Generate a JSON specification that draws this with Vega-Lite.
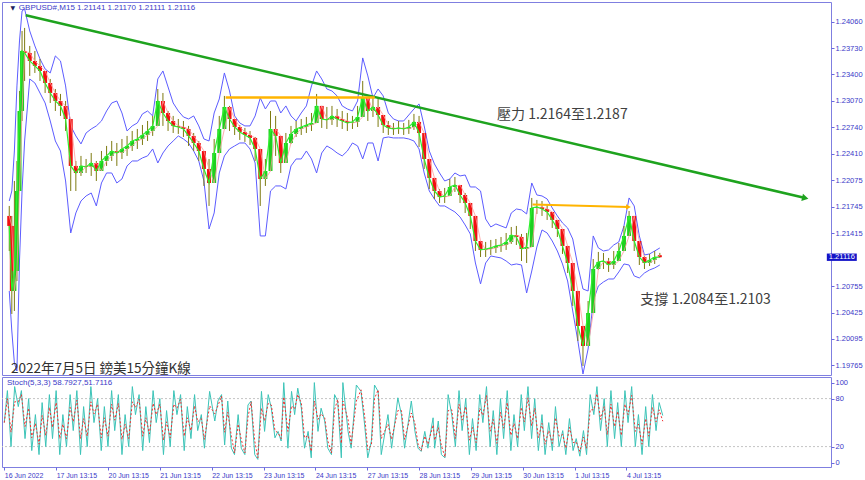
{
"$schema":"https://vega.github.io/schema/vega-lite/v6.json",
"padding":{"left":1,"top":1,"right":0,"bottom":0},
"background":"white",
"bounds":"flush",
"spacing":2,
"config":{"view":{"stroke":"#7f7fe0","strokeWidth":1},"text":{"font":"Noto Sans CJK TC"},"axis":{"labelOverlap":false,"labelBound":false,"labelFlush":false}},
"datasets":{
"px":[
{"t":0,"o":1.21632,"h":1.21757,"l":1.21194,"c":1.21507,"u":1.21819,"d":1.20694},
{"t":0.05,"o":1.21507,"h":1.21632,"l":1.20407,"c":1.20694,"u":1.21944,"d":1.20194},
{"t":0.1,"o":1.20694,"h":1.22069,"l":1.20444,"c":1.20944,"u":1.22444,"d":1.19794},
{"t":0.15,"o":1.20944,"h":1.22319,"l":1.20819,"c":1.21944,"u":1.23257,"d":1.19694},
{"t":0.2,"o":1.21944,"h":1.23194,"l":1.21944,"c":1.22944,"u":1.23819,"d":1.21069},
{"t":0.25,"o":1.22944,"h":1.23944,"l":1.22819,"c":1.23694,"u":1.24194,"d":1.21944},
{"t":0.3,"o":1.23694,"h":1.23982,"l":1.23319,"c":1.23669,"u":1.24219,"d":1.22569},
{"t":0.4,"o":1.23669,"h":1.23757,"l":1.23382,"c":1.23569,"u":1.23944,"d":1.23344},
{"t":0.5,"o":1.23569,"h":1.23694,"l":1.23419,"c":1.23507,"u":1.23757,"d":1.23294},
{"t":0.6,"o":1.23507,"h":1.23594,"l":1.23319,"c":1.23444,"u":1.23594,"d":1.23169},
{"t":0.7,"o":1.23444,"h":1.23444,"l":1.23169,"c":1.23294,"u":1.23469,"d":1.23044},
{"t":0.8,"o":1.23294,"h":1.23344,"l":1.23044,"c":1.23169,"u":1.23419,"d":1.22819},
{"t":0.9,"o":1.23169,"h":1.23219,"l":1.22944,"c":1.23069,"u":1.23632,"d":1.22569},
{"t":1.0,"o":1.23069,"h":1.23157,"l":1.22882,"c":1.23007,"u":1.23569,"d":1.22444},
{"t":1.1,"o":1.23007,"h":1.23069,"l":1.22694,"c":1.22844,"u":1.23257,"d":1.22069},
{"t":1.2,"o":1.22844,"h":1.22694,"l":1.21944,"c":1.22257,"u":1.22757,"d":1.21419},
{"t":1.3,"o":1.22257,"h":1.22319,"l":1.21944,"c":1.22169,"u":1.22632,"d":1.21669},
{"t":1.4,"o":1.22169,"h":1.22382,"l":1.22132,"c":1.22257,"u":1.22532,"d":1.21819},
{"t":1.5,"o":1.22257,"h":1.22344,"l":1.22169,"c":1.22244,"u":1.22669,"d":1.21882},
{"t":1.6,"o":1.22244,"h":1.22419,"l":1.22132,"c":1.22294,"u":1.22719,"d":1.21919},
{"t":1.7,"o":1.22294,"h":1.22319,"l":1.22069,"c":1.22194,"u":1.22757,"d":1.21757},
{"t":1.8,"o":1.22194,"h":1.22444,"l":1.22194,"c":1.22319,"u":1.22819,"d":1.22044},
{"t":1.9,"o":1.22319,"h":1.22507,"l":1.22257,"c":1.22382,"u":1.22944,"d":1.22169},
{"t":2.0,"o":1.22382,"h":1.22569,"l":1.22319,"c":1.22444,"u":1.23044,"d":1.22169},
{"t":2.1,"o":1.22444,"h":1.22544,"l":1.22257,"c":1.22419,"u":1.23069,"d":1.22044},
{"t":2.2,"o":1.22419,"h":1.22594,"l":1.22344,"c":1.22469,"u":1.22919,"d":1.22094},
{"t":2.3,"o":1.22469,"h":1.22632,"l":1.22382,"c":1.22507,"u":1.22694,"d":1.22257},
{"t":2.4,"o":1.22507,"h":1.22694,"l":1.22444,"c":1.22569,"u":1.22757,"d":1.22319},
{"t":2.5,"o":1.22569,"h":1.22719,"l":1.22469,"c":1.22594,"u":1.22794,"d":1.22319},
{"t":2.6,"o":1.22594,"h":1.22769,"l":1.22519,"c":1.22644,"u":1.22907,"d":1.22357},
{"t":2.7,"o":1.22644,"h":1.22819,"l":1.22569,"c":1.22694,"u":1.22944,"d":1.22382},
{"t":2.8,"o":1.22694,"h":1.22882,"l":1.22632,"c":1.22757,"u":1.22882,"d":1.22469},
{"t":2.9,"o":1.22757,"h":1.23219,"l":1.22844,"c":1.23069,"u":1.23344,"d":1.22294},
{"t":3.0,"o":1.23069,"h":1.23169,"l":1.22757,"c":1.22919,"u":1.23444,"d":1.22419},
{"t":3.1,"o":1.22919,"h":1.22944,"l":1.22694,"c":1.22819,"u":1.23244,"d":1.22507},
{"t":3.2,"o":1.22819,"h":1.22882,"l":1.22669,"c":1.22757,"u":1.23044,"d":1.22569},
{"t":3.3,"o":1.22757,"h":1.22844,"l":1.22657,"c":1.22744,"u":1.22944,"d":1.22632},
{"t":3.4,"o":1.22744,"h":1.22819,"l":1.22619,"c":1.22719,"u":1.22869,"d":1.22594},
{"t":3.5,"o":1.22719,"h":1.22757,"l":1.22507,"c":1.22632,"u":1.22844,"d":1.22544},
{"t":3.6,"o":1.22632,"h":1.22669,"l":1.22444,"c":1.22544,"u":1.22882,"d":1.22444},
{"t":3.7,"o":1.22544,"h":1.22569,"l":1.22319,"c":1.22444,"u":1.22757,"d":1.22319},
{"t":3.8,"o":1.22444,"h":1.22444,"l":1.22007,"c":1.22219,"u":1.22594,"d":1.22069},
{"t":3.9,"o":1.22219,"h":1.22344,"l":1.21757,"c":1.22044,"u":1.22569,"d":1.21469},
{"t":4.0,"o":1.22044,"h":1.22594,"l":1.22219,"c":1.22419,"u":1.22919,"d":1.21669},
{"t":4.1,"o":1.22419,"h":1.22882,"l":1.22569,"c":1.22719,"u":1.23094,"d":1.22169},
{"t":4.2,"o":1.22719,"h":1.23132,"l":1.22819,"c":1.22994,"u":1.23419,"d":1.22382},
{"t":4.3,"o":1.22994,"h":1.23007,"l":1.22694,"c":1.22844,"u":1.23194,"d":1.22469},
{"t":4.4,"o":1.22844,"h":1.22844,"l":1.22644,"c":1.22744,"u":1.22882,"d":1.22507},
{"t":4.5,"o":1.22744,"h":1.22769,"l":1.22582,"c":1.22682,"u":1.22794,"d":1.22544},
{"t":4.6,"o":1.22682,"h":1.22732,"l":1.22557,"c":1.22644,"u":1.22757,"d":1.22544},
{"t":4.7,"o":1.22644,"h":1.22694,"l":1.22519,"c":1.22607,"u":1.22757,"d":1.22469},
{"t":4.8,"o":1.22607,"h":1.22619,"l":1.22319,"c":1.22469,"u":1.22882,"d":1.22294},
{"t":4.9,"o":1.22469,"h":1.22344,"l":1.21757,"c":1.22094,"u":1.23107,"d":1.21382},
{"t":5.0,"o":1.22094,"h":1.22344,"l":1.22007,"c":1.22194,"u":1.22969,"d":1.21382},
{"t":5.1,"o":1.22194,"h":1.22944,"l":1.22507,"c":1.22719,"u":1.23069,"d":1.21944},
{"t":5.2,"o":1.22719,"h":1.22882,"l":1.22382,"c":1.22632,"u":1.23069,"d":1.22007},
{"t":5.3,"o":1.22632,"h":1.22444,"l":1.22169,"c":1.22294,"u":1.22919,"d":1.22007},
{"t":5.4,"o":1.22294,"h":1.22669,"l":1.22382,"c":1.22544,"u":1.23007,"d":1.21969},
{"t":5.5,"o":1.22544,"h":1.22757,"l":1.22532,"c":1.22657,"u":1.22882,"d":1.22257},
{"t":5.6,"o":1.22657,"h":1.22819,"l":1.22619,"c":1.22719,"u":1.22819,"d":1.22344},
{"t":5.7,"o":1.22719,"h":1.22844,"l":1.22644,"c":1.22744,"u":1.22919,"d":1.22344},
{"t":5.8,"o":1.22744,"h":1.22869,"l":1.22669,"c":1.22769,"u":1.23007,"d":1.22444},
{"t":5.9,"o":1.22769,"h":1.22919,"l":1.22694,"c":1.22794,"u":1.23257,"d":1.22344},
{"t":6.0,"o":1.22794,"h":1.23157,"l":1.22819,"c":1.23007,"u":1.23444,"d":1.22169},
{"t":6.1,"o":1.23007,"h":1.23007,"l":1.22732,"c":1.22844,"u":1.23344,"d":1.22419},
{"t":6.2,"o":1.22844,"h":1.22994,"l":1.22719,"c":1.22832,"u":1.23219,"d":1.22507},
{"t":6.3,"o":1.22832,"h":1.23007,"l":1.22769,"c":1.22882,"u":1.23194,"d":1.22469},
{"t":6.4,"o":1.22882,"h":1.22969,"l":1.22744,"c":1.22844,"u":1.23132,"d":1.22419},
{"t":6.5,"o":1.22844,"h":1.22944,"l":1.22719,"c":1.22819,"u":1.23007,"d":1.22382},
{"t":6.6,"o":1.22819,"h":1.22919,"l":1.22694,"c":1.22794,"u":1.22969,"d":1.22444},
{"t":6.7,"o":1.22794,"h":1.22882,"l":1.22719,"c":1.22807,"u":1.22944,"d":1.22544},
{"t":6.8,"o":1.22807,"h":1.23007,"l":1.22744,"c":1.22869,"u":1.23069,"d":1.22507},
{"t":6.9,"o":1.22869,"h":1.23319,"l":1.22944,"c":1.23119,"u":1.23607,"d":1.22344},
{"t":7.0,"o":1.23119,"h":1.23094,"l":1.22819,"c":1.22944,"u":1.23382,"d":1.22544},
{"t":7.1,"o":1.22944,"h":1.23132,"l":1.22869,"c":1.22994,"u":1.23107,"d":1.22544},
{"t":7.2,"o":1.22994,"h":1.23094,"l":1.22744,"c":1.22894,"u":1.23219,"d":1.22319},
{"t":7.3,"o":1.22894,"h":1.22882,"l":1.22669,"c":1.22769,"u":1.23132,"d":1.22607},
{"t":7.4,"o":1.22769,"h":1.22819,"l":1.22644,"c":1.22732,"u":1.22919,"d":1.22619},
{"t":7.5,"o":1.22732,"h":1.22794,"l":1.22644,"c":1.22719,"u":1.22844,"d":1.22607},
{"t":7.6,"o":1.22719,"h":1.22819,"l":1.22657,"c":1.22732,"u":1.22819,"d":1.22607},
{"t":7.7,"o":1.22732,"h":1.22794,"l":1.22644,"c":1.22719,"u":1.22819,"d":1.22607},
{"t":7.8,"o":1.22719,"h":1.22832,"l":1.22657,"c":1.22744,"u":1.22894,"d":1.22594},
{"t":7.9,"o":1.22744,"h":1.22907,"l":1.22707,"c":1.22807,"u":1.22969,"d":1.22569},
{"t":8.0,"o":1.22807,"h":1.22882,"l":1.22494,"c":1.22669,"u":1.23032,"d":1.22469},
{"t":8.1,"o":1.22669,"h":1.22507,"l":1.22219,"c":1.22344,"u":1.22757,"d":1.22169},
{"t":8.2,"o":1.22344,"h":1.22232,"l":1.21969,"c":1.22107,"u":1.22444,"d":1.21944},
{"t":8.3,"o":1.22107,"h":1.22069,"l":1.21844,"c":1.21944,"u":1.22282,"d":1.21844},
{"t":8.4,"o":1.21944,"h":1.21969,"l":1.21794,"c":1.21869,"u":1.22169,"d":1.21757},
{"t":8.5,"o":1.21869,"h":1.21982,"l":1.21794,"c":1.21882,"u":1.22069,"d":1.21757},
{"t":8.6,"o":1.21882,"h":1.22094,"l":1.21907,"c":1.21994,"u":1.22094,"d":1.21719},
{"t":8.7,"o":1.21994,"h":1.22119,"l":1.21932,"c":1.22019,"u":1.22169,"d":1.21682},
{"t":8.8,"o":1.22019,"h":1.22007,"l":1.21794,"c":1.21894,"u":1.22132,"d":1.21619},
{"t":8.9,"o":1.21894,"h":1.21919,"l":1.21669,"c":1.21794,"u":1.22144,"d":1.21519},
{"t":9.0,"o":1.21794,"h":1.21794,"l":1.21469,"c":1.21632,"u":1.21994,"d":1.21407},
{"t":9.1,"o":1.21632,"h":1.21507,"l":1.21194,"c":1.21319,"u":1.21994,"d":1.21044},
{"t":9.2,"o":1.21319,"h":1.21319,"l":1.21119,"c":1.21207,"u":1.21944,"d":1.20782},
{"t":9.3,"o":1.21207,"h":1.21307,"l":1.21119,"c":1.21219,"u":1.21594,"d":1.21044},
{"t":9.4,"o":1.21219,"h":1.21332,"l":1.21144,"c":1.21232,"u":1.21494,"d":1.21132},
{"t":9.5,"o":1.21232,"h":1.21344,"l":1.21169,"c":1.21257,"u":1.21532,"d":1.21119},
{"t":9.6,"o":1.21257,"h":1.21369,"l":1.21182,"c":1.21269,"u":1.21507,"d":1.21107},
{"t":9.7,"o":1.21269,"h":1.21419,"l":1.21207,"c":1.21307,"u":1.21482,"d":1.21069},
{"t":9.8,"o":1.21307,"h":1.21494,"l":1.21282,"c":1.21394,"u":1.21669,"d":1.21019},
{"t":9.9,"o":1.21394,"h":1.21507,"l":1.21269,"c":1.21369,"u":1.21719,"d":1.21032},
{"t":10.0,"o":1.21369,"h":1.21407,"l":1.21069,"c":1.21219,"u":1.21707,"d":1.21019},
{"t":10.1,"o":1.21219,"h":1.21419,"l":1.21044,"c":1.21244,"u":1.21657,"d":1.20669},
{"t":10.2,"o":1.21244,"h":1.21857,"l":1.21544,"c":1.21732,"u":1.22044,"d":1.20944},
{"t":10.3,"o":1.21732,"h":1.21832,"l":1.21657,"c":1.21744,"u":1.21894,"d":1.21244},
{"t":10.4,"o":1.21744,"h":1.21819,"l":1.21632,"c":1.21719,"u":1.21882,"d":1.21457},
{"t":10.5,"o":1.21719,"h":1.21782,"l":1.21582,"c":1.21682,"u":1.21844,"d":1.21419},
{"t":10.6,"o":1.21682,"h":1.21682,"l":1.21482,"c":1.21582,"u":1.21732,"d":1.21319},
{"t":10.7,"o":1.21582,"h":1.21569,"l":1.21369,"c":1.21469,"u":1.21632,"d":1.21194},
{"t":10.8,"o":1.21469,"h":1.21382,"l":1.21157,"c":1.21257,"u":1.21544,"d":1.21032},
{"t":10.9,"o":1.21257,"h":1.21194,"l":1.20919,"c":1.21044,"u":1.21482,"d":1.20819},
{"t":11.0,"o":1.21044,"h":1.20882,"l":1.20507,"c":1.20694,"u":1.21344,"d":1.20444},
{"t":11.1,"o":1.20694,"h":1.20444,"l":1.20069,"c":1.20257,"u":1.21007,"d":1.20069},
{"t":11.2,"o":1.20257,"h":1.20257,"l":1.19757,"c":1.20007,"u":1.20719,"d":1.19657},
{"t":11.3,"o":1.20007,"h":1.20569,"l":1.20219,"c":1.20419,"u":1.20694,"d":1.19969},
{"t":11.4,"o":1.20419,"h":1.21094,"l":1.20819,"c":1.20969,"u":1.21382,"d":1.20569},
{"t":11.5,"o":1.20969,"h":1.21182,"l":1.20957,"c":1.21057,"u":1.21232,"d":1.20757},
{"t":11.6,"o":1.21057,"h":1.21169,"l":1.20969,"c":1.21069,"u":1.21194,"d":1.20807},
{"t":11.7,"o":1.21069,"h":1.21107,"l":1.20932,"c":1.21019,"u":1.21207,"d":1.20844},
{"t":11.8,"o":1.21019,"h":1.21194,"l":1.20969,"c":1.21069,"u":1.21269,"d":1.20844},
{"t":11.9,"o":1.21069,"h":1.21294,"l":1.21107,"c":1.21194,"u":1.21307,"d":1.20932},
{"t":12.0,"o":1.21194,"h":1.21507,"l":1.21257,"c":1.21382,"u":1.21507,"d":1.21032},
{"t":12.1,"o":1.21382,"h":1.21694,"l":1.21469,"c":1.21632,"u":1.21857,"d":1.21019},
{"t":12.2,"o":1.21632,"h":1.21469,"l":1.21194,"c":1.21319,"u":1.21757,"d":1.20882},
{"t":12.3,"o":1.21319,"h":1.21219,"l":1.21019,"c":1.21119,"u":1.21382,"d":1.20857},
{"t":12.4,"o":1.21119,"h":1.21132,"l":1.20969,"c":1.21044,"u":1.21144,"d":1.20919},
{"t":12.5,"o":1.21044,"h":1.21157,"l":1.21007,"c":1.21082,"u":1.21157,"d":1.20957},
{"t":12.6,"o":1.21082,"h":1.21194,"l":1.21032,"c":1.21119,"u":1.21194,"d":1.20982},
{"t":12.7,"o":1.21141,"h":1.21170,"l":1.21111,"c":1.21116,"u":1.21232,"d":1.21019}
],
"st":[
{"t":0,"k":50,"d":50},{"t":0.06,"k":90,"d":80},{"t":0.13,"k":20,"d":38},{"t":0.2,"k":95,"d":76},{"t":0.27,"k":70,"d":76},{"t":0.33,"k":90,"d":85},{"t":0.4,"k":30,"d":45},{"t":0.47,"k":80,"d":68},{"t":0.53,"k":15,"d":31},{"t":0.6,"k":60,"d":49},{"t":0.67,"k":10,"d":23},{"t":0.73,"k":75,"d":59},{"t":0.8,"k":20,"d":34},{"t":0.87,"k":85,"d":69},{"t":0.93,"k":30,"d":44},{"t":1.0,"k":90,"d":75},{"t":1.07,"k":10,"d":30},{"t":1.13,"k":60,"d":48},{"t":1.2,"k":20,"d":30},{"t":1.27,"k":85,"d":69},{"t":1.33,"k":40,"d":51},{"t":1.4,"k":90,"d":78},{"t":1.47,"k":10,"d":30},{"t":1.53,"k":70,"d":55},{"t":1.6,"k":20,"d":33},{"t":1.67,"k":95,"d":76},{"t":1.73,"k":50,"d":61},{"t":1.8,"k":80,"d":73},{"t":1.87,"k":15,"d":31},{"t":1.93,"k":70,"d":56},{"t":2.0,"k":20,"d":33},{"t":2.07,"k":90,"d":73},{"t":2.13,"k":40,"d":53},{"t":2.2,"k":85,"d":74},{"t":2.27,"k":10,"d":29},{"t":2.33,"k":60,"d":48},{"t":2.4,"k":20,"d":30},{"t":2.47,"k":95,"d":76},{"t":2.53,"k":60,"d":69},{"t":2.6,"k":85,"d":79},{"t":2.67,"k":15,"d":33},{"t":2.73,"k":70,"d":56},{"t":2.8,"k":25,"d":36},{"t":2.87,"k":90,"d":74},{"t":2.93,"k":50,"d":60},{"t":3.0,"k":80,"d":73},{"t":3.07,"k":10,"d":28},{"t":3.13,"k":65,"d":51},{"t":3.2,"k":20,"d":31},{"t":3.27,"k":90,"d":73},{"t":3.33,"k":60,"d":68},{"t":3.4,"k":85,"d":79},{"t":3.47,"k":15,"d":33},{"t":3.53,"k":70,"d":56},{"t":3.6,"k":30,"d":40},{"t":3.67,"k":85,"d":71},{"t":3.73,"k":40,"d":51},
{"t":3.80,"k":60,"d":55},{"t":3.86,"k":18,"d":29},{"t":3.96,"k":89,"d":71},{"t":4.06,"k":52,"d":61},{"t":4.12,"k":77,"d":71},{"t":4.19,"k":85,"d":83},{"t":4.25,"k":22,"d":38},{"t":4.31,"k":77,"d":63},{"t":4.38,"k":18,"d":33},{"t":4.44,"k":10,"d":12},{"t":4.51,"k":60,"d":48},{"t":4.57,"k":18,"d":29},{"t":4.64,"k":10,"d":12},{"t":4.70,"k":72,"d":57},{"t":4.76,"k":77,"d":76},{"t":4.83,"k":10,"d":27},{"t":4.89,"k":4,"d":6},{"t":4.96,"k":89,"d":68},{"t":5.02,"k":39,"d":52},{"t":5.09,"k":85,"d":74},{"t":5.15,"k":68,"d":72},{"t":5.22,"k":31,"d":40},{"t":5.28,"k":39,"d":37},{"t":5.34,"k":27,"d":30},{"t":5.39,"k":100,"d":82},{"t":5.47,"k":18,"d":39},{"t":5.54,"k":89,"d":71},{"t":5.60,"k":60,"d":67},{"t":5.66,"k":93,"d":85},{"t":5.73,"k":68,"d":74},{"t":5.79,"k":18,"d":31},{"t":5.86,"k":39,"d":34},{"t":5.92,"k":6,"d":14},{"t":5.98,"k":100,"d":77},{"t":6.05,"k":39,"d":54},{"t":6.11,"k":68,"d":61},{"t":6.18,"k":52,"d":56},{"t":6.24,"k":18,"d":27},{"t":6.31,"k":10,"d":12},{"t":6.37,"k":85,"d":66},{"t":6.43,"k":77,"d":79},{"t":6.50,"k":6,"d":24},{"t":6.53,"k":100,"d":77},{"t":6.63,"k":39,"d":54},{"t":6.69,"k":18,"d":23},{"t":6.79,"k":97,"d":77},{"t":6.88,"k":89,"d":91},{"t":6.95,"k":47,"d":58},{"t":7.01,"k":6,"d":16},{"t":7.08,"k":27,"d":22},{"t":7.14,"k":97,"d":80},{"t":7.21,"k":89,"d":91},{"t":7.27,"k":10,"d":30},{"t":7.40,"k":60,"d":48},{"t":7.47,"k":18,"d":29},{"t":7.59,"k":81,"d":65},{"t":7.66,"k":60,"d":65},{"t":7.72,"k":18,"d":29},{"t":7.85,"k":77,"d":62},{"t":7.92,"k":39,"d":49},{"t":7.98,"k":18,"d":23},{"t":8.04,"k":14,"d":15},{"t":8.11,"k":39,"d":33},{"t":8.17,"k":18,"d":23},{"t":8.27,"k":56,"d":47},{"t":8.30,"k":18,"d":28},{"t":8.37,"k":52,"d":44},{"t":8.43,"k":10,"d":21},{"t":8.50,"k":6,"d":7},{"t":8.56,"k":85,"d":65},
{"t":8.63,"k":60,"d":66},{"t":8.7,"k":20,"d":30},{"t":8.77,"k":90,"d":73},{"t":8.83,"k":40,"d":53},{"t":8.9,"k":80,"d":70},{"t":8.97,"k":10,"d":28},{"t":9.03,"k":55,"d":44},{"t":9.1,"k":15,"d":25},{"t":9.17,"k":85,"d":68},{"t":9.23,"k":50,"d":59},{"t":9.3,"k":95,"d":84},{"t":9.37,"k":20,"d":39},{"t":9.43,"k":65,"d":54},{"t":9.5,"k":10,"d":24},{"t":9.57,"k":80,"d":63},{"t":9.63,"k":30,"d":43},{"t":9.7,"k":90,"d":75},{"t":9.77,"k":15,"d":34},{"t":9.83,"k":60,"d":49},{"t":9.9,"k":20,"d":30},{"t":9.97,"k":85,"d":69},{"t":10.03,"k":40,"d":51},{"t":10.1,"k":95,"d":81},{"t":10.17,"k":30,"d":46},{"t":10.23,"k":80,"d":68},{"t":10.3,"k":15,"d":31},{"t":10.37,"k":60,"d":49},{"t":10.43,"k":10,"d":23},{"t":10.5,"k":50,"d":40},{"t":10.57,"k":15,"d":24},{"t":10.63,"k":70,"d":56},{"t":10.7,"k":20,"d":33},{"t":10.77,"k":40,"d":35},{"t":10.83,"k":10,"d":18},{"t":10.9,"k":55,"d":44},{"t":10.97,"k":15,"d":25},{"t":11.03,"k":30,"d":26},{"t":11.1,"k":8,"d":14},{"t":11.17,"k":40,"d":32},{"t":11.23,"k":10,"d":18},{"t":11.3,"k":85,"d":66},{"t":11.37,"k":60,"d":66},{"t":11.43,"k":95,"d":86},{"t":11.5,"k":40,"d":54},{"t":11.57,"k":80,"d":70},{"t":11.63,"k":20,"d":35},{"t":11.7,"k":90,"d":73},{"t":11.77,"k":30,"d":45},{"t":11.83,"k":75,"d":64},{"t":11.9,"k":20,"d":34},{"t":11.97,"k":90,"d":73},{"t":12.03,"k":50,"d":60},{"t":12.1,"k":95,"d":84},{"t":12.17,"k":20,"d":39},{"t":12.23,"k":60,"d":48},{"t":12.3,"k":10,"d":23},{"t":12.37,"k":70,"d":55},{"t":12.43,"k":20,"d":33},{"t":12.5,"k":85,"d":69},{"t":12.57,"k":40,"d":51},{"t":12.63,"k":75,"d":66},{"t":12.7,"k":58.79,"d":51.71}
]
},
"vconcat":[
{
"width":829,"height":373,
"layer":[
{"data":{"name":"px"},"mark":{"type":"line","color":"#5c5cff","strokeWidth":1},
 "encoding":{"x":{"field":"t","type":"quantitative","scale":{"domain":[-0.044,15.944],"nice":false,"zero":false},"axis":null},
 "y":{"field":"u","type":"quantitative","scale":{"domain":[1.19644,1.24306],"nice":false,"zero":false},
  "axis":{"orient":"right","title":null,"values":[1.2406,1.2373,1.234,1.2307,1.2274,1.2241,1.22075,1.21745,1.21415,1.20755,1.20425,1.20095,1.19765],"tickCount":30,"format":".5f","grid":false,"domain":false,"tickColor":"#6a6ae0","tickSize":3,"labelColor":"#3a3ac8","labelFontSize":7.5,"labelFont":"Liberation Sans","labelPadding":1,"labelOverlap":false,"labelBound":false}}}},
{"data":{"name":"px"},"mark":{"type":"line","color":"#5c5cff","strokeWidth":1},
 "encoding":{"x":{"field":"t","type":"quantitative"},"y":{"field":"d","type":"quantitative"}}},
{"data":{"name":"px"},"mark":{"type":"rule","color":"#7d7a10","strokeWidth":1},
 "encoding":{"x":{"field":"t","type":"quantitative"},"y":{"field":"l","type":"quantitative"},"y2":{"field":"h"}}},
{"data":{"name":"px"},"mark":{"type":"bar","size":4},
 "encoding":{"x":{"field":"t","type":"quantitative"},"y":{"field":"o","type":"quantitative"},"y2":{"field":"c"},
 "color":{"condition":{"test":"datum.c >= datum.o","value":"#1fcf1f"},"value":"#f01010"}}},
{"data":{"name":"px"},"mark":{"type":"line","color":"#ff9a9a","strokeWidth":1,"opacity":0.8},
 "encoding":{"x":{"field":"t","type":"quantitative"},"y":{"field":"o","type":"quantitative"}}},
{"data":{"name":"px"},"mark":{"type":"line","color":"#2ef02e","strokeWidth":1.2},
 "encoding":{"x":{"field":"t","type":"quantitative"},"y":{"field":"c","type":"quantitative"}}},
{"data":{"values":[{"t":0.322,"p":1.2414},{"t":15.539,"p":1.21856}]},"mark":{"type":"line","color":"#1ea31e","strokeWidth":2.5},
 "encoding":{"x":{"field":"t","type":"quantitative"},"y":{"field":"p","type":"quantitative"}}},
{"data":{"values":[{"t":15.539,"p":1.21856}]},"mark":{"type":"point","shape":"triangle-right","angle":13,"filled":true,"size":55,"color":"#1ea31e","opacity":1},
 "encoding":{"x":{"field":"t","type":"quantitative"},"y":{"field":"p","type":"quantitative"}}},
{"data":{"values":[{"t":4.224,"p":1.23113},{"t":7.136,"p":1.23113}]},"mark":{"type":"line","color":"#ffb400","strokeWidth":2.5},
 "encoding":{"x":{"field":"t","type":"quantitative"},"y":{"field":"p","type":"quantitative"}}},
{"data":{"values":[{"t":10.216,"p":1.21775},{"t":12.087,"p":1.21744}]},"mark":{"type":"line","color":"#ffb400","strokeWidth":2},
 "encoding":{"x":{"field":"t","type":"quantitative"},"y":{"field":"p","type":"quantitative"}}},
{"data":{"values":[{"t":12.087,"p":1.21744}]},"mark":{"type":"point","shape":"triangle-right","angle":1,"filled":true,"size":30,"color":"#ffb400","opacity":1},
 "encoding":{"x":{"field":"t","type":"quantitative"},"y":{"field":"p","type":"quantitative"}}},
{"data":{"values":[{"t":9.522,"p":1.22894,"s":"壓力 1.2164至1.2187"},{"t":12.318,"p":1.20581,"s":"支撐 1.2084至1.2103"}]},
 "mark":{"type":"text","align":"left","baseline":"middle","fontSize":14,"color":"#404040"},
 "encoding":{"x":{"field":"t","type":"quantitative"},"y":{"field":"p","type":"quantitative"},"text":{"field":"s"}}},
{"data":{"values":[{"t":0.033,"p":1.19719,"s":"2022年7月5日 鎊美15分鐘K線"}]},
 "mark":{"type":"text","align":"left","baseline":"middle","fontSize":13.5,"color":"#303030","clip":true},
 "encoding":{"x":{"field":"t","type":"quantitative"},"y":{"field":"p","type":"quantitative"},"text":{"field":"s"}}},
{"data":{"values":[{"t":0.187,"p":1.24228,"s":"GBPUSD#,M15  1.21141 1.21170 1.21111 1.21116"}]},
 "mark":{"type":"text","align":"left","baseline":"middle","fontSize":8,"font":"Liberation Sans","color":"#3a3ac8"},
 "encoding":{"x":{"field":"t","type":"quantitative"},"y":{"field":"p","type":"quantitative"},"text":{"field":"s"}}},
{"data":{"values":[{"t":0.071,"p":1.24228,"s":"▼"}]},
 "mark":{"type":"text","align":"center","baseline":"middle","fontSize":6,"font":"DejaVu Sans","color":"#202060"},
 "encoding":{"x":{"field":"t","type":"quantitative"},"y":{"field":"p","type":"quantitative"},"text":{"field":"s"}}},
{"data":{"values":[{"t0":15.96,"t1":16.545,"p0":1.21070,"p1":1.21162}]},"mark":{"type":"rect","color":"#1414c8"},
 "encoding":{"x":{"field":"t0","type":"quantitative"},"x2":{"field":"t1"},"y":{"field":"p0","type":"quantitative"},"y2":{"field":"p1"}}},
{"data":{"values":[{"t":16.0,"p":1.21116,"s":"1.21116"}]},
 "mark":{"type":"text","align":"left","baseline":"middle","fontSize":7.5,"font":"Liberation Sans","color":"white"},
 "encoding":{"x":{"field":"t","type":"quantitative"},"y":{"field":"p","type":"quantitative"},"text":{"field":"s"}}}
]
},
{
"width":829,"height":90,
"layer":[
{"data":{"values":[{"lv":20},{"lv":80}]},"mark":{"type":"rule","color":"#c4c4c4","strokeDash":[2,2],"strokeWidth":1},
 "encoding":{"y":{"field":"lv","type":"quantitative","scale":{"domain":[-5.5,107],"nice":false,"zero":false},
 "axis":{"orient":"right","title":null,"values":[0,20,80,100],"tickCount":10,"grid":false,"domain":false,"tickColor":"#6a6ae0","tickSize":3,"labelColor":"#3a3ac8","labelFontSize":7.5,"labelFont":"Liberation Sans","labelPadding":1,"labelOverlap":false,"labelBound":false}}}},
{"data":{"name":"st"},"mark":{"type":"line","color":"#3cc4b8","strokeWidth":1},
 "encoding":{"x":{"field":"t","type":"quantitative","scale":{"domain":[-0.044,15.944],"nice":false,"zero":false},
  "axis":{"orient":"bottom","title":null,"values":[0,1,2,3,4,5,6,7,8,9,10,11,12],"tickCount":30,"labelExpr":"['16 Jun 2022','17 Jun 13:15','20 Jun 13:15','21 Jun 13:15','22 Jun 13:15','23 Jun 13:15','24 Jun 13:15','27 Jun 13:15','28 Jun 13:15','29 Jun 13:15','30 Jun 13:15','1 Jul 13:15','4 Jul 13:15'][datum.value]","labelAlign":"left","labelFontSize":7,"labelFont":"Liberation Sans","labelColor":"#3a3ac8","tickColor":"#6a6ae0","tickSize":3,"domain":false,"grid":false,"labelPadding":1,"labelOverlap":false,"labelFlush":false}},
 "y":{"field":"k","type":"quantitative"}}},
{"data":{"name":"st"},"mark":{"type":"line","color":"#f03030","strokeWidth":1,"strokeDash":[2,2]},
 "encoding":{"x":{"field":"t","type":"quantitative"},"y":{"field":"d","type":"quantitative"}}},
{"data":{"values":[{"t":0.052,"v":99,"s":"Stoch(5,3,3) 58.7927,51.7116"}]},
 "mark":{"type":"text","align":"left","baseline":"middle","fontSize":8,"font":"Liberation Sans","color":"#3a3ac8"},
 "encoding":{"x":{"field":"t","type":"quantitative"},"y":{"field":"v","type":"quantitative"},"text":{"field":"s"}}}
]
}
]
}
